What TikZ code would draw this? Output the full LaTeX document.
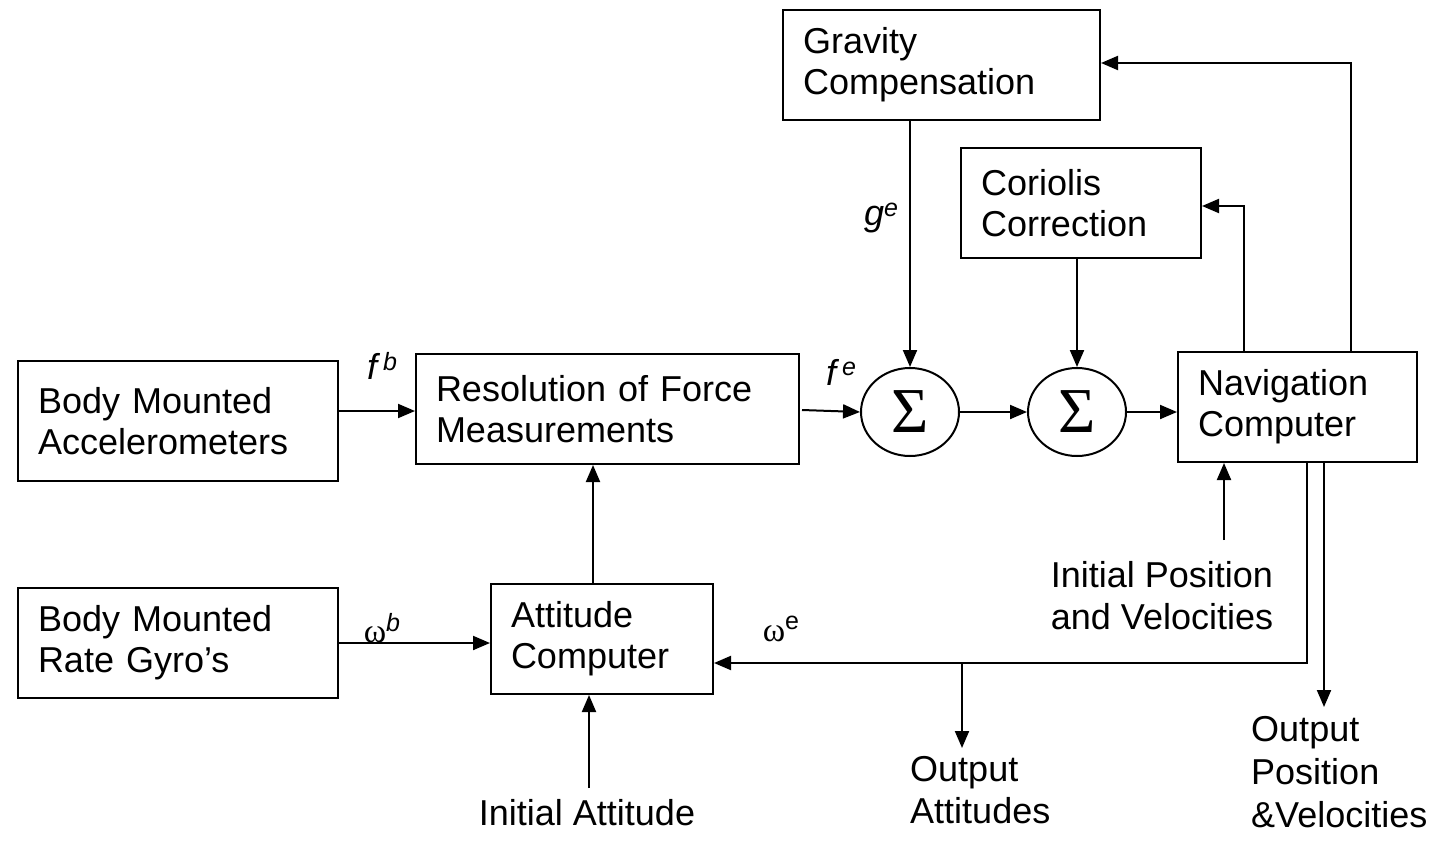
\documentclass[tikz,border=0pt]{standalone}
\usepackage{fontspec}
\setmainfont{Liberation Sans}
\newfontfamily\serifgr{Liberation Serif}
\usetikzlibrary{arrows.meta,shapes.geometric}
\tikzset{
  box/.style={draw, line width=2pt, inner xsep=20pt, inner ysep=0pt, align=left, anchor=north west,
    font=\fontsize{36}{41}\selectfont},
  txt/.style={inner sep=0pt, font=\fontsize{36}{42}\selectfont},
  lbl/.style={inner sep=0pt, font=\fontsize{36}{40}\selectfont},
  sumnode/.style={draw, line width=2pt, ellipse, minimum width=98pt, minimum height=88pt, inner sep=0pt,
    font=\serifgr\fontsize{64}{64}\selectfont},
  arr/.style={line width=2pt, -{Triangle[length=17pt,width=14pt]}},
}
\begin{document}
\begin{tikzpicture}[x=1pt,y=-1pt]
\useasboundingbox (0,0) rectangle (1439,840);
% boxes
\node[box, minimum width=317pt, minimum height=110pt, text width=277pt] (grav) at (782,9) {Gravity\\Compensation};
\node[box, minimum width=240pt, minimum height=110pt, text width=200pt] (cor) at (960,147) {Coriolis\\Correction};
\node[box, minimum width=320pt, minimum height=120pt, text width=280pt] (acc) at (17,360) {Body Mounted\\Accelerometers};
\node[box, minimum width=383pt, minimum height=110pt, text width=343pt] (res) at (415,353) {Resolution of Force\\Measurements};
\node[box, minimum width=239pt, minimum height=110pt, text width=199pt] (nav) at (1177,351) {Navigation\\Computer};
\node[box, minimum width=320pt, minimum height=110pt, text width=280pt] (gyro) at (17,587) {Body Mounted\\Rate Gyro’s};
\node[box, minimum width=222pt, minimum height=110pt, text width=182pt] (att) at (490,583) {Attitude\\Computer};
% summing junctions
\node[sumnode] (s1) at (910,412) {Σ};
\node[sumnode] (s2) at (1077,412) {Σ};
% free texts
\node[txt, align=center, anchor=north] (ipv) at (1162,561) {Initial Position\\and Velocities};
\node[txt, anchor=north] (ia) at (587,799) {Initial Attitude};
\node[txt, align=left, anchor=north west] (oa) at (910,756) {Output\\Attitudes};
\node[txt, align=left, anchor=north west, font=\fontsize{36}{43}\selectfont] (op) at (1251,716) {Output\\Position\\\&Velocities};
% labels
\node[lbl] (lfb) at (382,366) {\itshape f\,\raisebox{0.5ex}{\fontsize{25}{25}\selectfont b}};
\node[lbl] (lfe) at (841,372) {\itshape f\,\raisebox{0.5ex}{\fontsize{25}{25}\selectfont e}};
\node[lbl] (lge) at (881,218) {\itshape g\raisebox{0.5ex}{\fontsize{25}{25}\selectfont e}};
\node[lbl] (lwb) at (382,628) {{\serifgr\fontsize{34}{34}\selectfont ω}\raisebox{0.6ex}{\fontsize{25}{25}\selectfont\itshape b}};
\node[lbl] (lwe) at (781,629) {{\serifgr\fontsize{34}{34}\selectfont ω}\raisebox{0.6ex}{\fontsize{25}{25}\selectfont e}};
% coordinates
\coordinate (cg) at (1351,63);
\coordinate (cc) at (1244,206);
\coordinate (cw) at (1307,663);
\coordinate (jn) at (962,663);
\coordinate (oaend) at (962,748);
\coordinate (cp) at (1324,707);
\coordinate (cip) at (1224,540);
\coordinate (cia) at (589,788);
\coordinate (cra) at (593,0);
\coordinate (cgy) at (0,643);
% connectors
\draw[arr] (acc.east |- 0,411) -- (res.west |- 0,411);
\draw[arr] (802,410) -- (s1.west);
\draw[arr] (s1.east) -- (s2.west);
\draw[arr] (s2.east) -- (nav.west |- s2.east);
\draw[arr] (grav.south -| s1.north) -- (s1.north);
\draw[arr] (cor.south -| s2.north) -- (s2.north);
\draw[arr] (nav.north -| cg) |- (grav.east |- cg);
\draw[arr] (nav.north -| cc) |- (cor.east |- cc);
\draw[arr] (nav.south -| cw) |- (att.east |- cw);
\draw[arr] (jn) -- (oaend);
\draw[arr] (nav.south -| cp) -- (cp);
\draw[arr] (cip) -- (nav.south -| cip);
\draw[arr] (cia) -- (att.south -| cia);
\draw[arr] (att.north -| cra) -- (res.south -| cra);
\draw[arr] (gyro.east |- cgy) -- (att.west |- cgy);
\end{tikzpicture}
\end{document}
